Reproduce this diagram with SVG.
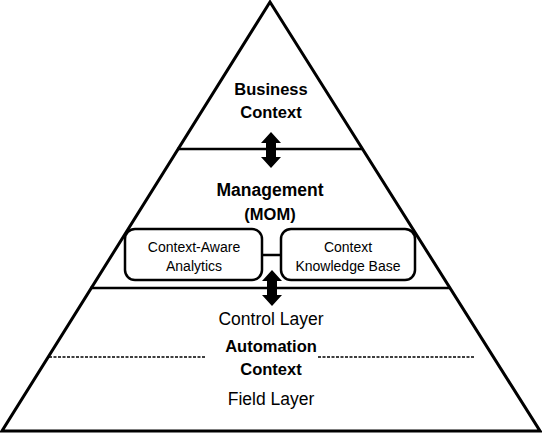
<svg xmlns="http://www.w3.org/2000/svg" width="542" height="434" viewBox="0 0 542 434">
<style>
.t{font-family:"Liberation Sans",Arial,sans-serif;text-anchor:middle;fill:#000}
.b{font-weight:bold;font-size:16.5px}
.r{font-size:17.5px}
.s{font-size:14px}
.ln{stroke:#000;stroke-width:2.5;fill:none}
.box{fill:#fff;stroke:#000;stroke-width:2.5}
</style>
<defs>
<path id="dbl" d="M0,-18 L10,-7 L5,-7 L5,7 L10,7 L0,18 L-10,7 L-5,7 L-5,-7 L-10,-7 Z" fill="#000"/>
</defs>
<g id="pyramid">
<polygon points="270,2 540,431 2,431" fill="#fff" stroke="#000" stroke-width="3" stroke-linejoin="miter"/>
<line class="ln" x1="177" y1="149" x2="363" y2="149"/>
<line class="ln" x1="90" y1="288" x2="450" y2="288"/>
<line x1="49" y1="357" x2="205" y2="357" stroke="#000" stroke-width="1.5" stroke-dasharray="3,1.5"/>
<line x1="318" y1="357" x2="475" y2="357" stroke="#000" stroke-width="1.5" stroke-dasharray="3,1.5"/>
</g>
<g id="business">
<text class="t b" x="271" y="95">Business</text>
<text class="t b" x="271" y="118">Context</text>
</g>
<g id="management">
<text class="t b" x="270" y="196" style="font-size:17.5px">Management</text>
<text class="t b" x="270" y="220">(MOM)</text>
</g>
<g id="connectors">
<use href="#dbl" x="271" y="150"/>
<line class="ln" x1="262" y1="255" x2="281" y2="255"/>
<use href="#dbl" x="272" y="288"/>
</g>
<g id="analytics">
<rect class="box" x="125" y="229" width="137" height="51" rx="10"/>
<text class="t s" x="194" y="252">Context-Aware</text>
<text class="t s" x="194" y="271">Analytics</text>
</g>
<g id="knowledge">
<rect class="box" x="281" y="229" width="134" height="51" rx="10"/>
<text class="t s" x="348" y="252">Context</text>
<text class="t s" x="348" y="271">Knowledge Base</text>
</g>
<g id="automation">
<text class="t r" x="271" y="325">Control Layer</text>
<text class="t b" x="271" y="352">Automation</text>
<text class="t b" x="271" y="375">Context</text>
<text class="t r" x="271" y="405">Field Layer</text>
</g>
</svg>
